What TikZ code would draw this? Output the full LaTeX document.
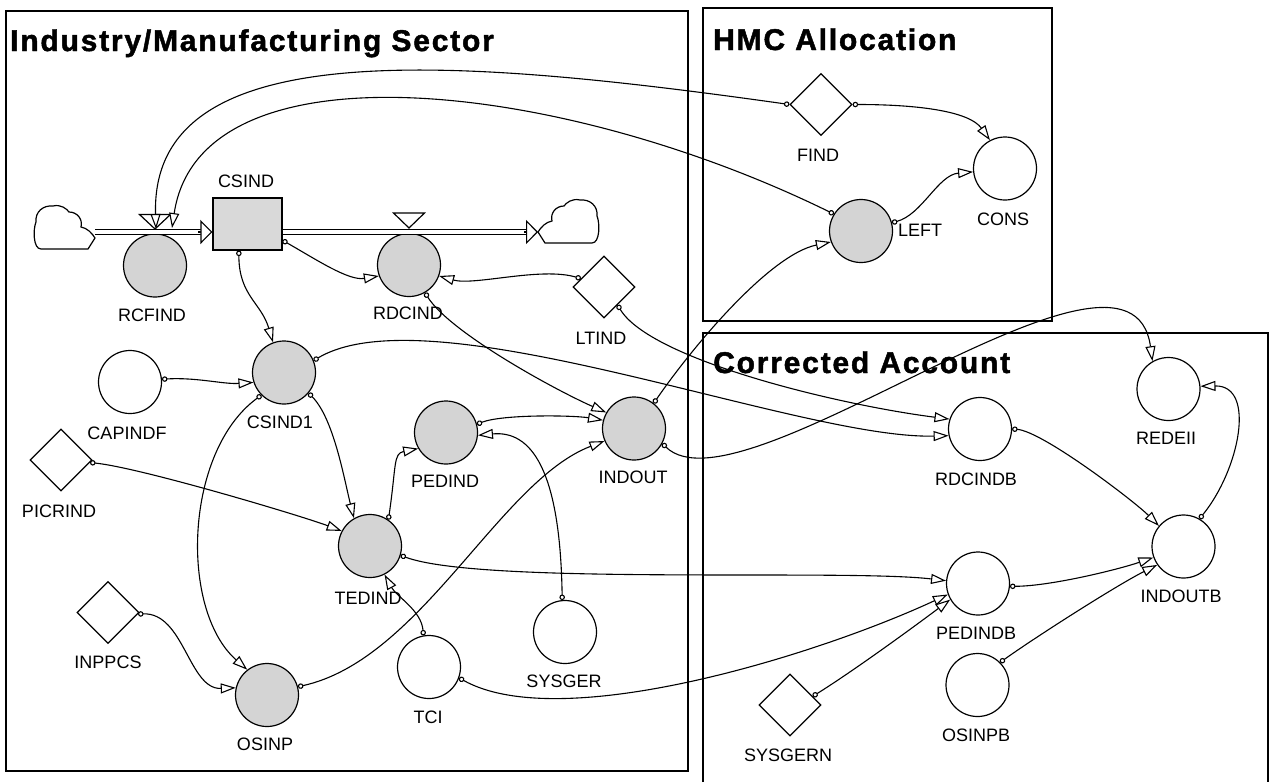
\documentclass[tikz,border=0pt]{standalone}
\usepackage{fontspec}
\setmainfont{Liberation Sans}
\newfontfamily\ttlfont{Liberation Sans}[LetterSpace=6,BoldFeatures={FakeBold=1.5}]
\usetikzlibrary{arrows.meta,shapes.geometric,calc}
\tikzset{
  cloudpic/.pic={
    \draw[line width=1.2pt,fill=white] (0,0) -- (7,11) -- (54,11)
      .. controls (62,11) and (62,-9) .. (59,-16)
      .. controls (60,-26) and (52,-33) .. (42,-32)
      .. controls (34,-34) and (28,-29) .. (26,-26)
      .. controls (18,-26) and (12,-19) .. (14,-11)
      .. controls (8,-10) and (3,-5) .. (0,0) -- cycle;
  }
}
\begin{document}
\begin{tikzpicture}[x=1pt,y=-1pt,
  box/.style={draw,line width=1.6pt},
  ttl/.style={anchor=base west,inner sep=0pt,font=\ttlfont\bfseries\fontsize{30}{32}\selectfont},
  aux/.style={circle,draw,line width=1.2pt,minimum size=63pt,inner sep=0pt,fill=white},
  conv/.style={aux,fill=black!17},
  cst/.style={diamond,draw,line width=1.2pt,minimum width=62pt,minimum height=62pt,inner sep=0pt,fill=white},
  stock/.style={draw,line width=1.2pt,fill=black!15,minimum width=69pt,minimum height=52pt,inner sep=0pt},
  lbl/.style={inner sep=0pt,font=\fontsize{18}{20}\selectfont},
  link/.style={line width=1.1pt,{Circle[length=5.5pt,fill=white]}-{Triangle[length=15pt,width=10pt,fill=white]}},
  pipe/.style={double,double distance=3.6pt,line width=1.1pt},
  pipehead/.style={line width=1.1pt,-{Triangle[length=12pt,width=24pt,fill=white]}},
  valve/.style={draw,line width=1.2pt,fill=white}
]
\useasboundingbox (0,0) rectangle (1276,782);
\fill[white] (0,0) rectangle (1276,782);

% sector frames
\draw[box] (6,11) rectangle (688,771);
\draw[box] (703,8) rectangle (1052,321);
\draw[box] (703,782) -- (703,333) -- (1268,333) -- (1268,782);

\node[ttl] (tInd) at (10,51) {Industry/Manufacturing Sector};
\node[ttl] (tHMC) at (713,50) {HMC Allocation};
\node[ttl] (tCor) at (713,373) {Corrected Account};

% nodes
\node[stock] (CSIND) at (247.5,224) {};
\node[conv] (RCFIND) at (155,265.5) {};
\node[conv] (RDCIND) at (409,265) {};
\node[cst] (LTIND) at (604,287) {};
\node[conv] (CSIND1) at (284,372.5) {};
\node[aux] (CAPINDF) at (130,382) {};
\node[cst] (PICRIND) at (61,460) {};
\node[cst] (INPPCS) at (108,612.5) {};
\node[conv] (OSINP) at (267,695) {};
\node[conv] (TEDIND) at (370,546) {};
\node[conv] (PEDIND) at (446,432.5) {};
\node[conv] (INDOUT) at (634,428.5) {};
\node[aux] (TCI) at (429,667) {};
\node[aux] (SYSGER) at (565,632) {};
\node[cst] (FIND) at (821,104.5) {};
\node[aux] (CONS) at (1005,168.5) {};
\node[conv] (LEFT) at (861,231) {};
\node[aux] (REDEII) at (1168.5,389) {};
\node[aux] (RDCINDB) at (980,429) {};
\node[aux] (INDOUTB) at (1183.5,546.5) {};
\node[aux] (PEDINDB) at (978,583.5) {};
\node[aux] (OSINPB) at (977.5,685) {};
\node[cst] (SYSGERN) at (790,705) {};

% flows
\coordinate (cloudL) at (95,232);
\coordinate (cloudR) at (538,232);
\coordinate (pipeA) at (CSIND.west |- cloudL);
\coordinate (pipeB) at (CSIND.east |- cloudR);
\coordinate (vRCa) at (156,229);
\coordinate (vRCb) at (172,228);
\draw[pipe] (cloudL) -- ([xshift=-11pt]pipeA);
\draw[pipehead] ([xshift=-14pt]pipeA) -- (pipeA);
\draw[pipe] (pipeB) -- ([xshift=-11pt]cloudR);
\draw[pipehead] ([xshift=-14pt]cloudR) -- (cloudR);
\pic[xscale=-1] at ($(cloudL)+(0,6)$) {cloudpic};
\pic at (cloudR) {cloudpic};
\draw[valve] (139.5,214.5) -- (170.5,214.5) -- (155,229) -- cycle;
\draw[valve] (393.5,213) -- (424.5,213) -- (409,228) -- cycle;

% information links
\draw[link] (FIND.west) .. controls +(-340,-48) and +(-6,-196) .. (vRCa);
\draw[link] (LEFT.148) .. controls +(-275,-135) and +(28,-188) .. (vRCb);
\draw[link] (FIND.east) .. controls +(70,0) and +(-20,-28) .. (CONS.118);
\draw[link] (LEFT.15) .. controls +(30,-8) and +(-35,3) .. (CONS.186);
\draw[link] (CSIND.-25) .. controls +(35,20) and +(-30,5) .. (RDCIND.200);
\draw[link] (CSIND.-108) .. controls +(0,45) and +(-12,-40) .. (CSIND1.110);
\draw[link] (RDCIND.-60) .. controls +(25,40) and +(-50,-22) .. (INDOUT.150);
\draw[link] (LTIND.160) .. controls +(-40,-12) and +(35,10) .. (RDCIND.-20);
\draw[link] (LTIND.-53) .. controls +(33,55) and +(-110,-14) .. (RDCINDB.162);
\draw[link] (CSIND1.22) .. controls +(117,-70) and +(-149,4) .. (RDCINDB.192);
\draw[link] (TEDIND.-17) .. controls +(80,30) and +(-100,-12) .. (PEDINDB.175);
\draw[link] (TCI.-20) .. controls +(102,57) and +(-129,60) .. (PEDINDB.200);
\draw[link] (SYSGERN.21) .. controls +(40,-25) and +(-40,30) .. (PEDINDB.210);
\draw[link] (PEDINDB.-5) .. controls +(40,0) and +(-35,12) .. (INDOUTB.200);
\draw[link] (OSINPB.45) .. controls +(35,-25) and +(-40,20) .. (INDOUTB.215);
\draw[link] (RDCINDB.0) .. controls +(30,2) and +(-25,-25) .. (INDOUTB.140);
\draw[link] (INDOUTB.60) .. controls +(40,-49) and +(56,-1) .. (REDEII.5);
\draw[link] (INDOUT.-28) .. controls +(79,77) and +(-22,-162) .. (REDEII.120);
\draw[link] (INDOUT.52) .. controls +(37,-54) and +(-62,13) .. (LEFT.200);
\draw[link] (CAPINDF.5) .. controls +(35,-2) and +(-30,2) .. (CSIND1.198);
\draw[link] (CSIND1.-40) .. controls +(25,25) and +(-10,-40) .. (TEDIND.120);
\draw[link] (CSIND1.-135) .. controls +(-77,56) and +(-68,-60) .. (OSINP.128);
\draw[link] (INPPCS.-3) .. controls +(46,-2) and +(-47,2) .. (OSINP.167);
\draw[link] (PICRIND.-5) .. controls +(50,5) and +(-40,-15) .. (TEDIND.152);
\draw[link] (TEDIND.55) .. controls +(8,-55) and +(-25,5) .. (PEDIND.210);
\draw[link] (SYSGER.95) .. controls +(-2,-131) and +(53,-5) .. (PEDIND.-5);
\draw[link] (PEDIND.15) .. controls +(25,-10) and +(-30,-5) .. (INDOUT.165);
\draw[link] (OSINP.15) .. controls +(123,-27) and +(-105,40) .. (INDOUT.203);
\draw[link] (TCI.100) .. controls +(-2,-25) and +(12,22) .. (TEDIND.-63);

% labels
\node[lbl] (lCSIND) at (246,181) {CSIND};
\node[lbl] (lRCFIND) at (152,315) {RCFIND};
\node[lbl] (lRDCIND) at (408,313) {RDCIND};
\node[lbl] (lLTIND) at (601,338) {LTIND};
\node[lbl] (lCSIND1) at (280,422) {CSIND1};
\node[lbl] (lCAPINDF) at (127,433) {CAPINDF};
\node[lbl] (lPICRIND) at (59,511) {PICRIND};
\node[lbl] (lINPPCS) at (108,662) {INPPCS};
\node[lbl] (lOSINP) at (265,744) {OSINP};
\node[lbl] (lTEDIND) at (368,598) {TEDIND};
\node[lbl] (lPEDIND) at (445,481) {PEDIND};
\node[lbl] (lINDOUT) at (633,477) {INDOUT};
\node[lbl] (lTCI) at (428,717) {TCI};
\node[lbl] (lSYSGER) at (564,681) {SYSGER};
\node[lbl] (lFIND) at (818,155) {FIND};
\node[lbl] (lCONS) at (1003,219) {CONS};
\node[lbl,anchor=west] (lLEFT) at (898,230) {LEFT};
\node[lbl] (lREDEII) at (1166,438) {REDEII};
\node[lbl] (lRDCINDB) at (976,479) {RDCINDB};
\node[lbl] (lINDOUTB) at (1181,596) {INDOUTB};
\node[lbl] (lPEDINDB) at (976,633) {PEDINDB};
\node[lbl] (lOSINPB) at (976,735) {OSINPB};
\node[lbl] (lSYSGERN) at (788,755) {SYSGERN};
\end{tikzpicture}
\end{document}
